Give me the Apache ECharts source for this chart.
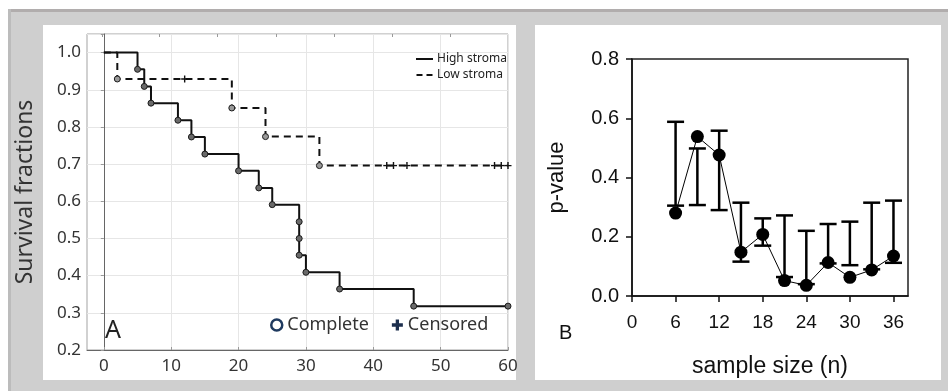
<!DOCTYPE html>
<html>
<head>
<meta charset="utf-8">
<script src="https://cdn.jsdelivr.net/npm/echarts@6/dist/echarts.min.js"></script>
<style>
html, body { margin: 0; padding: 0; width: 948px; height: 391px; overflow: hidden; background: #cfcfcf; }
.bg { position: absolute; }
#chart { position: absolute; left: 0; top: 0; width: 948px; height: 391px; }
</style>
</head>
<body>
<div class="bg" style="left:0;top:0;width:948px;height:9px;background:#fff"></div>
<div class="bg" style="left:0;top:9px;width:948px;height:3px;background:#b1adad"></div>
<div class="bg" style="left:0;top:0;width:8px;height:391px;background:#fff"></div>
<div class="bg" style="left:8px;top:9px;width:3px;height:382px;background:#bcbcbc"></div>
<div class="bg" style="left:43px;top:25px;width:473px;height:355px;background:#fff"></div>
<div class="bg" style="left:535px;top:25px;width:406px;height:355px;background:#fff"></div>
<div id="chart"></div>
<script>
// panel A - Kaplan-Meier curves
const highTime = [0, 5, 6, 7, 11, 13, 15, 20, 23, 25, 29, 30, 35, 46, 60];
const highSurv = [1, 0.955, 0.909, 0.864, 0.818, 0.773, 0.727, 0.682, 0.636, 0.591, 0.455, 0.409, 0.364, 0.318, 0.318];
const highEventTime = [5, 6, 7, 11, 13, 15, 20, 23, 25, 29, 29, 29, 30, 35, 46, 60];
const highEventSurv = [0.955, 0.909, 0.864, 0.818, 0.773, 0.727, 0.682, 0.636, 0.591, 0.545, 0.5, 0.455, 0.409, 0.364, 0.318, 0.318];

const lowTime = [0, 2, 19, 24, 32, 60];
const lowSurv = [1, 0.929, 0.851, 0.774, 0.696, 0.696];
const lowEventTime = [2, 19, 24, 32];
const lowEventSurv = [0.929, 0.851, 0.774, 0.696];
const lowCensTime = [12, 42, 43, 45, 58, 59, 60];
const lowCensSurv = [0.929, 0.696, 0.696, 0.696, 0.696, 0.696, 0.696];

const kmXTicks = [0, 10, 20, 30, 40, 50, 60];
const kmTopTicks = [-0.3, 8.3, 16.9, 25.6, 34.2, 42.8, 51.4];

// panel B - p-value vs sample size
const sampleSizes = [6, 9, 12, 15, 18, 21, 24, 27, 30, 33, 36];
const pValues = [0.28, 0.538, 0.476, 0.148, 0.208, 0.052, 0.036, 0.113, 0.063, 0.088, 0.135];
const errLow = [0.305, 0.307, 0.29, 0.116, 0.17, 0.064, 0.04, 0.11, 0.104, 0.09, 0.112];
const errHigh = [0.588, 0.498, 0.558, 0.315, 0.262, 0.272, 0.22, 0.243, 0.251, 0.315, 0.322];
const sampleTicks = [0, 6, 12, 18, 24, 30, 36];

const zip = (a, b) => a.map((v, i) => [v, b[i]]);
const plusPath = 'path://M4,0H6V4H10V6H6V10H4V6H0V4H4Z';
const boldPlusPath = 'path://M3.5,0H6.5V3.5H10V6.5H6.5V10H3.5V6.5H0V3.5H3.5Z';
const solidIcon = 'path://M0,0H17V2H0Z';
const dashIcon = 'path://M0,0H6V2H0ZM10,0H16V2H10Z';
const fontA = '"Noto Sans", "Open Sans", sans-serif';
const fontB = '"Liberation Sans", Arial, sans-serif';

const chart = echarts.init(document.getElementById('chart'));

const option = {
    animation: false,
    title: [
        { text: 'A', left: 105, top: 318, padding: 0, textStyle: { fontSize: 25, fontWeight: 'normal', color: '#222', fontFamily: fontA } },
        { text: 'B', left: 559, top: 323, padding: 0, textStyle: { fontSize: 20, fontWeight: 'normal', color: '#111', fontFamily: fontB } }
    ],
    legend: [
        {
            data: [
                { name: 'High stroma', icon: solidIcon },
                { name: 'Low stroma', icon: dashIcon }
            ],
            orient: 'vertical',
            left: 416,
            top: 53,
            itemWidth: 17,
            itemHeight: 2,
            itemGap: 4,
            padding: 0,
            selectedMode: false,
            itemStyle: { color: '#111' },
            textStyle: { fontSize: 12, color: '#222', fontFamily: fontA, padding: [0, 0, 0, -1] }
        },
        {
            data: [
                { name: 'Complete', icon: 'circle', itemStyle: { color: '#fff', borderColor: '#1f3a5f', borderWidth: 2.5 } },
                { name: 'Censored', icon: boldPlusPath, itemStyle: { color: '#1c2e4d', borderWidth: 0 } }
            ],
            left: 270,
            top: 316,
            itemWidth: 11,
            itemHeight: 11,
            itemGap: 23,
            padding: 0,
            selectedMode: false,
            textStyle: { fontSize: 18, color: '#333', fontFamily: fontA }
        }
    ],
    grid: [
        { left: 87, top: 34, width: 421, height: 316, show: true, borderColor: '#a3a3a3', borderWidth: 1 },
        { left: 632, top: 59, width: 276, height: 237, show: true, borderColor: '#222', borderWidth: 1.5 }
    ],
    xAxis: [
        {
            gridIndex: 0, type: 'value', min: -2.5, max: 60,
            axisLine: { lineStyle: { color: '#666' } },
            axisTick: { show: true, inside: true, length: 3, customValues: kmXTicks, lineStyle: { color: '#999' } },
            axisLabel: { customValues: kmXTicks, fontSize: 17, color: '#333', margin: 8, fontFamily: fontA },
            splitLine: { show: true, lineStyle: { color: '#e6e6e6' } }
        },
        {
            gridIndex: 0, type: 'value', min: -2.5, max: 60, position: 'top',
            axisLine: { show: false },
            axisTick: { show: true, inside: true, length: 3, customValues: kmTopTicks, lineStyle: { color: '#999' } },
            axisLabel: { show: false },
            splitLine: { show: false }
        },
        {
            gridIndex: 1, type: 'value', min: 0, max: 38,
            name: 'sample size (n)', nameLocation: 'middle', nameGap: 59,
            nameTextStyle: { fontSize: 23, color: '#111', fontFamily: fontB },
            axisLine: { lineStyle: { color: '#111', width: 1.5 } },
            axisTick: { show: true, length: 6, customValues: sampleTicks, lineStyle: { color: '#111', width: 1.5 } },
            axisLabel: { customValues: sampleTicks, fontSize: 19, color: '#111', margin: 17, fontFamily: fontB },
            splitLine: { show: false }
        }
    ],
    yAxis: [
        {
            gridIndex: 0, type: 'value', min: 0.2, max: 1.05, interval: 0.1,
            name: 'Survival fractions', nameLocation: 'middle', nameGap: 50,
            nameTextStyle: { fontSize: 23, color: '#333', fontFamily: fontA },
            axisLine: { show: true, lineStyle: { color: '#666' } },
            axisTick: { show: false },
            axisLabel: { showMaxLabel: false, formatter: v => v.toFixed(1), fontSize: 17, color: '#333', margin: 6, fontFamily: fontA },
            splitLine: { show: true, lineStyle: { color: '#e6e6e6' } }
        },
        {
            gridIndex: 0, type: 'value', min: 0.2, max: 1.05, interval: 0.1, position: 'right',
            axisLine: { show: false },
            axisTick: { show: true, inside: true, length: 3, lineStyle: { color: '#999' } },
            axisLabel: { show: false },
            splitLine: { show: false }
        },
        {
            gridIndex: 1, type: 'value', min: 0, max: 0.8, interval: 0.2,
            name: 'p-value', nameLocation: 'middle', nameGap: 64,
            nameTextStyle: { fontSize: 22, color: '#111', fontFamily: fontB },
            axisLine: { show: true, lineStyle: { color: '#111', width: 1.5 } },
            axisTick: { show: true, length: 6, lineStyle: { color: '#111', width: 1.5 } },
            axisLabel: { formatter: v => v.toFixed(1), fontSize: 20, color: '#111', margin: 13, fontFamily: fontB },
            splitLine: { show: false }
        }
    ],
    series: [
        {
            name: 'High stroma', type: 'line', step: 'end', xAxisIndex: 0, yAxisIndex: 0,
            data: zip(highTime, highSurv), symbol: 'none',
            itemStyle: { color: '#111' },
            lineStyle: { color: '#111', width: 2 }
        },
        {
            name: 'Low stroma', type: 'line', step: 'end', xAxisIndex: 0, yAxisIndex: 0,
            data: zip(lowTime, lowSurv), symbol: 'none',
            itemStyle: { color: '#111' },
            lineStyle: { color: '#111', width: 2, type: [7, 5] }
        },
        {
            name: 'Complete', type: 'scatter', xAxisIndex: 0, yAxisIndex: 0,
            data: zip(highEventTime, highEventSurv), symbol: 'circle', symbolSize: 6,
            itemStyle: { color: '#6a6a6a', borderColor: '#1a1a1a', borderWidth: 1, opacity: 1 }, z: 4
        },
        {
            name: 'Complete', type: 'scatter', xAxisIndex: 0, yAxisIndex: 0,
            data: zip(lowEventTime, lowEventSurv), symbol: 'circle', symbolSize: 6,
            itemStyle: { color: '#9a9a9a', borderColor: '#1a1a1a', borderWidth: 1, opacity: 1 }, z: 4
        },
        {
            name: 'Censored', type: 'scatter', xAxisIndex: 0, yAxisIndex: 0,
            data: zip(lowCensTime, lowCensSurv), symbol: plusPath, symbolSize: 7,
            itemStyle: { color: '#111', opacity: 1 }, z: 4
        },
        {
            name: 'error', type: 'custom', xAxisIndex: 2, yAxisIndex: 2,
            data: sampleSizes.map((n, i) => [n, errLow[i], errHigh[i]]),
            encode: { x: 0, y: [1, 2] },
            z: 2,
            renderItem: function (params, api) {
                const x = api.value(0);
                const lo = api.coord([x, api.value(1)]);
                const hi = api.coord([x, api.value(2)]);
                const half = 8.5;
                const style = { stroke: '#000', lineWidth: 2.5 };
                return {
                    type: 'group',
                    children: [
                        { type: 'line', shape: { x1: lo[0], y1: lo[1], x2: hi[0], y2: hi[1] }, style: style },
                        { type: 'line', shape: { x1: hi[0] - half, y1: hi[1], x2: hi[0] + half, y2: hi[1] }, style: style },
                        { type: 'line', shape: { x1: lo[0] - half, y1: lo[1], x2: lo[0] + half, y2: lo[1] }, style: style }
                    ]
                };
            }
        },
        {
            name: 'p', type: 'line', xAxisIndex: 2, yAxisIndex: 2,
            data: zip(sampleSizes, pValues), symbol: 'circle', symbolSize: 13,
            itemStyle: { color: '#000' },
            lineStyle: { color: '#000', width: 1 },
            z: 3
        }
    ]
};

chart.setOption(option);
</script>
</body>
</html>
